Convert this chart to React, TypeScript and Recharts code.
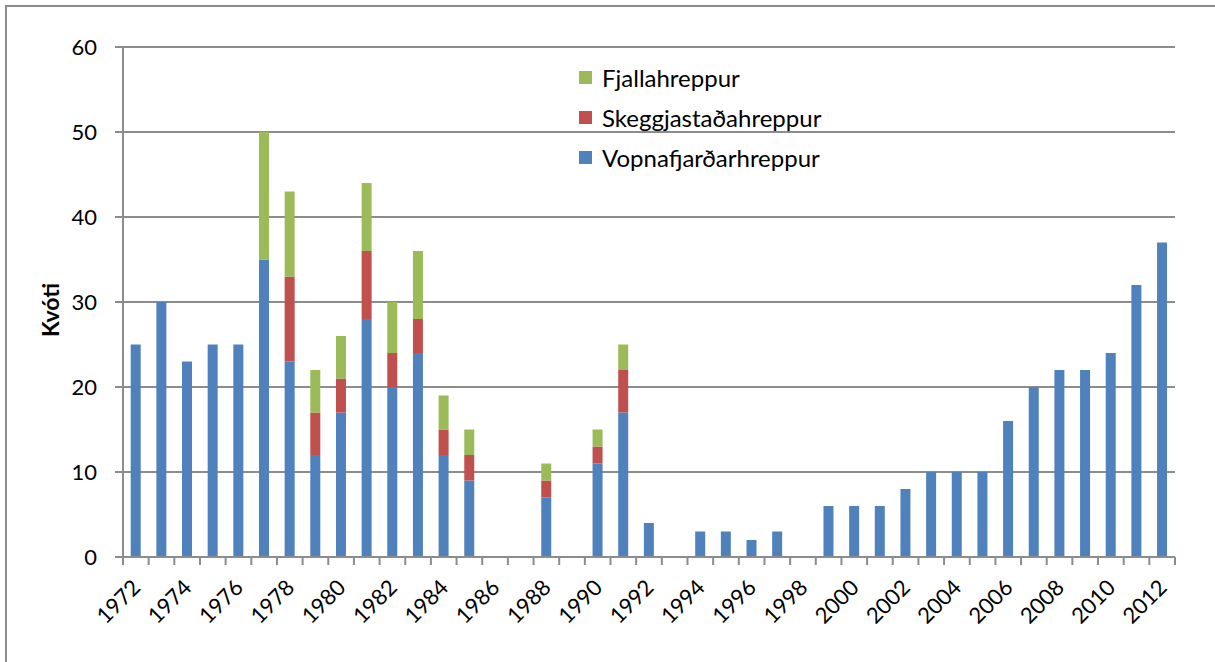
import React from 'react';
import { BarChart, Bar, XAxis, YAxis, CartesianGrid, Legend } from 'recharts';

const years = [
  '1972', '1973', '1974', '1975', '1976', '1977', '1978', '1979', '1980', '1981',
  '1982', '1983', '1984', '1985', '1986', '1987', '1988', '1989', '1990', '1991',
  '1992', '1993', '1994', '1995', '1996', '1997', '1998', '1999', '2000', '2001',
  '2002', '2003', '2004', '2005', '2006', '2007', '2008', '2009', '2010', '2011', '2012',
];

const vopnafjordur = [
  25, 30, 23, 25, 25, 35, 23, 12, 17, 28,
  20, 24, 12, 9, 0, 0, 7, 0, 11, 17,
  4, 0, 3, 3, 2, 3, 0, 6, 6, 6,
  8, 10, 10, 10, 16, 20, 22, 22, 24, 32, 37,
];

const skeggjastadir = [
  0, 0, 0, 0, 0, 0, 10, 5, 4, 8,
  4, 4, 3, 3, 0, 0, 2, 0, 2, 5,
  0, 0, 0, 0, 0, 0, 0, 0, 0, 0,
  0, 0, 0, 0, 0, 0, 0, 0, 0, 0, 0,
];

const fjalla = [
  0, 0, 0, 0, 0, 15, 10, 5, 5, 8,
  6, 8, 4, 3, 0, 0, 2, 0, 2, 3,
  0, 0, 0, 0, 0, 0, 0, 0, 0, 0,
  0, 0, 0, 0, 0, 0, 0, 0, 0, 0, 0,
];

const yTicks = [0, 10, 20, 30, 40, 50, 60];

const SERIES = [
  { key: 'Fjallahreppur', color: '#9BBB59' },
  { key: 'Skeggjastaðahreppur', color: '#C0504D' },
  { key: 'Vopnafjarðarhreppur', color: '#4F81BD' },
];

const data = years.map((year, i) => ({
  year,
  Vopnafjarðarhreppur: vopnafjordur[i],
  Skeggjastaðahreppur: skeggjastadir[i],
  Fjallahreppur: fjalla[i],
}));

const FONT = 'Lato, "Open Sans", sans-serif';
const AXIS = '#8c8c8c';

function XTick(props: any) {
  const { x, y, payload, index } = props;
  const half = payload?.offset || 12.83;
  const showLabel = index % 2 === 0;
  const tx = x + 6;
  const ty = y + 32;
  return (
    <g>
      <line x1={x - half} y1={y} x2={x - half} y2={y + 8} stroke={AXIS} strokeWidth={2} />
      {index === years.length - 1 && (
        <line x1={x + half} y1={y} x2={x + half} y2={y + 8} stroke={AXIS} strokeWidth={2} />
      )}
      {showLabel && (
        <text
          x={tx}
          y={ty}
          textAnchor="end"
          transform={`rotate(-45, ${tx}, ${ty})`}
          fontSize={22}
          fontFamily={FONT}
          fill="#000"
        >
          {payload.value}
        </text>
      )}
    </g>
  );
}

function LegendBox() {
  return (
    <div style={{ fontFamily: FONT, fontSize: 24, color: '#000' }}>
      {SERIES.map(s => (
        <div key={s.key} style={{ display: 'flex', alignItems: 'center', height: 40 }}>
          <span style={{ width: 13, height: 13, background: s.color, marginRight: 10, display: 'inline-block' }} />
          <span>{s.key}</span>
        </div>
      ))}
    </div>
  );
}

export default function App() {
  return (
    <div style={{ position: 'absolute', left: 0, top: 0, width: 1215, height: 662, background: '#fff', overflow: 'hidden' }}>
      <div
        style={{
          position: 'absolute',
          left: 5,
          top: 5,
          width: 1230,
          height: 700,
          border: `2px solid ${AXIS}`,
          boxSizing: 'border-box',
        }}
      />
      <BarChart
        width={1215}
        height={662}
        data={data}
        margin={{ top: 47, right: 40, left: 0, bottom: 0 }}
        barCategoryGap="30%"
      >
        <CartesianGrid vertical={false} stroke={AXIS} strokeWidth={2} />
        <XAxis
          dataKey="year"
          interval={0}
          height={105}
          tickSize={0}
          tickMargin={0}
          tickLine={false}
          axisLine={{ stroke: AXIS, strokeWidth: 2 }}
          tick={<XTick />}
        />
        <YAxis
          width={123}
          domain={[0, 60]}
          ticks={yTicks}
          tickSize={8}
          tickMargin={18}
          axisLine={{ stroke: AXIS, strokeWidth: 2 }}
          tickLine={{ stroke: AXIS, strokeWidth: 2 }}
          tick={{ fontSize: 22, fill: '#000', fontFamily: FONT }}
          label={{
            content: ({ viewBox }: any) => {
              const cy = viewBox ? viewBox.y + viewBox.height / 2 + 8 : 310;
              return (
                <text
                  x={50}
                  y={cy}
                  transform={`rotate(-90, 50, ${cy})`}
                  textAnchor="middle"
                  dominantBaseline="central"
                  fontSize={23}
                  fontWeight="bold"
                  fontFamily={FONT}
                  fill="#000"
                >
                  Kvóti
                </text>
              );
            },
          }}
        />
        <Legend
          layout="vertical"
          align="center"
          verticalAlign="middle"
          content={<LegendBox />}
          wrapperStyle={{ position: 'absolute', top: 57, left: 579, width: 340 }}
        />
        <Bar dataKey="Vopnafjarðarhreppur" stackId="a" fill="#4F81BD" isAnimationActive={false} />
        <Bar dataKey="Skeggjastaðahreppur" stackId="a" fill="#C0504D" isAnimationActive={false} />
        <Bar dataKey="Fjallahreppur" stackId="a" fill="#9BBB59" isAnimationActive={false} />
      </BarChart>
    </div>
  );
}
